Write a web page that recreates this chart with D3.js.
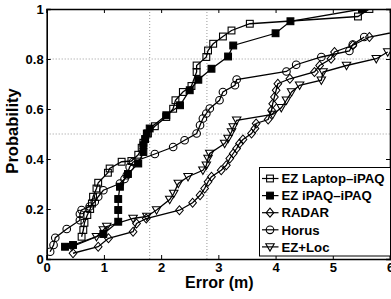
<!DOCTYPE html>
<html><head><meta charset="utf-8">
<script src="https://cdn.jsdelivr.net/npm/d3@7"></script>
<style>
body{margin:0;background:#fff;}
svg{display:block;font-family:"Liberation Sans",Arial,sans-serif;font-weight:bold;}
</style></head>
<body>
<svg id="chart" width="391" height="299"></svg>
<script>
// ---- data ----
const xTicks = [0,1,2,3,4,5,6];
const yTicks = [0,0.2,0.4,0.6,0.8,1];
const yTickLabels = ["0","0.2","0.4","0.6","0.8","1"];
const gridX = [1.8, 2.8];
const gridY = [0.5, 0.8];
const seriesNames = ["EZ Laptop–iPAQ","EZ iPAQ–iPAQ","RADAR","Horus","EZ+Loc"];
const seriesMarkers = ["square","filledSquare","diamond","circle","triangleDown"];

const laptopX = [0.61,0.64,0.66,0.71,0.76,0.79,0.81,0.87,0.90,1.07,1.10,1.31,1.48,1.60,1.66,1.69,1.77,1.89,2.09,2.21,2.25,2.38,2.53,2.62,2.62,2.79,2.82,2.91,3.08,3.23,3.55,5.44,5.64];
const laptopY = [0.089,0.116,0.145,0.176,0.200,0.222,0.249,0.282,0.305,0.345,0.362,0.389,0.392,0.417,0.445,0.465,0.502,0.531,0.568,0.601,0.635,0.668,0.692,0.748,0.774,0.808,0.834,0.861,0.890,0.914,0.941,0.970,1.0];

const ipaqX = [0.32,0.46,0.99,1.25,1.25,1.25,1.28,1.42,1.60,1.69,1.69,1.72,1.75,1.80,2.09,2.33,2.50,2.65,2.88,3.17,3.26,4.00,4.26,5.51];
const ipaqY = [0.049,0.056,0.100,0.149,0.196,0.240,0.289,0.340,0.382,0.428,0.455,0.480,0.502,0.522,0.575,0.615,0.675,0.717,0.761,0.810,0.854,0.903,0.951,1.0];

const radarX = [0.46,0.90,1.08,1.51,1.57,1.74,2.32,2.55,2.68,2.76,2.82,2.88,3.05,3.14,3.20,3.26,3.32,3.37,3.43,3.58,3.64,3.66,3.87,3.93,3.95,3.98,4.01,4.04,4.25,4.68,4.77,4.97,5.03,5.35,5.64,6.25];
const radarY = [0.023,0.049,0.083,0.109,0.142,0.162,0.195,0.225,0.255,0.282,0.309,0.329,0.355,0.375,0.402,0.422,0.442,0.462,0.478,0.502,0.522,0.542,0.558,0.595,0.621,0.648,0.675,0.701,0.721,0.748,0.774,0.801,0.828,0.855,0.888,0.915];

const horusX = [0.06,0.12,0.15,0.35,0.58,0.58,0.61,0.75,0.84,0.90,0.99,1.28,1.36,1.40,1.45,1.51,1.89,2.21,2.41,2.62,2.68,2.73,2.79,2.85,3.02,3.08,3.29,3.32,4.19,4.36,4.80,5.29,5.35,5.55];
const horusY = [0.029,0.056,0.085,0.120,0.155,0.180,0.196,0.210,0.229,0.249,0.275,0.302,0.320,0.335,0.368,0.388,0.420,0.448,0.475,0.502,0.535,0.562,0.582,0.602,0.635,0.668,0.695,0.718,0.750,0.777,0.808,0.832,0.858,0.888];

const ezlocX = [0.44,0.87,0.99,1.05,1.51,1.75,1.92,2.15,2.22,2.30,2.47,2.73,2.79,2.82,2.85,3.11,3.17,3.23,3.26,3.32,3.95,4.10,4.19,4.28,4.42,4.80,4.83,5.24,5.76,5.96];
const ezlocY = [0.049,0.089,0.116,0.130,0.162,0.170,0.196,0.238,0.262,0.302,0.329,0.355,0.375,0.402,0.422,0.462,0.482,0.508,0.528,0.555,0.578,0.605,0.635,0.668,0.695,0.715,0.748,0.774,0.801,0.828];

const seriesX = [laptopX, ipaqX, radarX, horusX, ezlocX];
const seriesY = [laptopY, ipaqY, radarY, horusY, ezlocY];

// ---- layout ----
const W = 391, H = 299;
const m = {left:46.7, right:1, top:9, bottom:40};
const svg = d3.select("#chart");
const x = d3.scaleLinear().domain([0,6]).range([m.left, W - m.right]);
const y = d3.scaleLinear().domain([0,1]).range([H - m.bottom, m.top]);

svg.append("defs").append("clipPath").attr("id","clip")
  .append("rect").attr("x", m.left).attr("y", m.top)
  .attr("width", W - m.right - m.left).attr("height", H - m.bottom - m.top);

// grid
svg.append("g").selectAll("line").data(gridX).join("line")
  .attr("x1", d => x(d)).attr("x2", d => x(d))
  .attr("y1", y(0)).attr("y2", y(1))
  .attr("stroke", "#999").attr("stroke-width", 1).attr("stroke-dasharray", "1,2");
svg.append("g").selectAll("line").data(gridY).join("line")
  .attr("y1", d => y(d)).attr("y2", d => y(d))
  .attr("x1", x(0)).attr("x2", x(6))
  .attr("stroke", "#999").attr("stroke-width", 1).attr("stroke-dasharray", "1,2");

// axes
const fs = 13;
const gx = svg.append("g").attr("transform", `translate(0,${y(0)})`)
  .call(d3.axisBottom(x).tickValues(xTicks).tickFormat(d3.format("d")).tickSize(-4).tickPadding(4));
const gxt = svg.append("g").attr("transform", `translate(0,${y(1)})`)
  .call(d3.axisTop(x).tickValues(xTicks).tickFormat("").tickSize(-4));
const gy = svg.append("g").attr("transform", `translate(${x(0)},0)`)
  .call(d3.axisLeft(y).tickValues(yTicks).tickFormat((d,i) => yTickLabels[i]).tickSize(-4).tickPadding(3));
const gyr = svg.append("g").attr("transform", `translate(${x(6)},0)`)
  .call(d3.axisRight(y).tickValues(yTicks).tickFormat("").tickSize(-4));
[gx,gxt,gy,gyr].forEach(g => {
  g.select(".domain").attr("stroke","#000").attr("stroke-width",1.6);
  g.selectAll(".tick line").attr("stroke","#000").attr("stroke-width",1);
  g.selectAll("text").attr("fill","#000").attr("font-size", fs)
    .attr("font-family","Liberation Sans, Arial, sans-serif").attr("font-weight","bold");
});

// axis titles
svg.append("text").attr("x", (x(0)+x(6))/2 + 1).attr("y", 288)
  .attr("text-anchor","middle").attr("font-size",16).text("Error (m)");
svg.append("text").attr("transform", `translate(18,${(y(0)+y(1))/2 - 3}) rotate(-90)`)
  .attr("text-anchor","middle").attr("font-size",16.5).text("Probability");

// marker drawing
function drawMarker(g, type, cx, cy) {
  if (type === "square" || type === "filledSquare") {
    g.append("rect").attr("x", cx-3.4).attr("y", cy-3.4).attr("width",6.8).attr("height",6.8)
      .attr("fill", type === "filledSquare" ? "#000" : "none").attr("stroke","#000").attr("stroke-width",1.1);
  } else if (type === "circle") {
    g.append("circle").attr("cx",cx).attr("cy",cy).attr("r",3.8)
      .attr("fill","none").attr("stroke","#000").attr("stroke-width",1.1);
  } else if (type === "diamond") {
    g.append("path").attr("d", `M${cx},${cy-4.5}L${cx+3.8},${cy}L${cx},${cy+4.5}L${cx-3.8},${cy}Z`)
      .attr("fill","none").attr("stroke","#000").attr("stroke-width",1.1);
  } else if (type === "triangleDown") {
    g.append("path").attr("d", `M${cx-4.2},${cy-3.2}L${cx+4.2},${cy-3.2}L${cx},${cy+4.2}Z`)
      .attr("fill","none").attr("stroke","#000").attr("stroke-width",1.1);
  }
}

// series
const line = d3.line().x(d => x(d[0])).y(d => y(d[1]));
const plot = svg.append("g").attr("clip-path","url(#clip)");
seriesX.forEach((xs, si) => {
  const pts = xs.map((v,i) => [v, seriesY[si][i]]);
  plot.append("path").datum(pts).attr("d", line)
    .attr("fill","none").attr("stroke","#000").attr("stroke-width",1.3);
  const mg = plot.append("g");
  pts.forEach(p => drawMarker(mg, seriesMarkers[si], x(p[0]), y(p[1])));
});

// legend
const lg = svg.append("g");
const lx = 259.5, ly = 167.5, lw = 131, lh = 88.5;
lg.append("rect").attr("x",lx).attr("y",ly).attr("width",lw).attr("height",lh)
  .attr("fill","#fff").attr("stroke","#000").attr("stroke-width",1);
seriesNames.forEach((name,i) => {
  const cy = 178.5 + i*17.1;
  lg.append("line").attr("x1",262).attr("x2",278.5).attr("y1",cy).attr("y2",cy)
    .attr("stroke","#000").attr("stroke-width",1.2);
  drawMarker(lg, seriesMarkers[i], 270, cy);
  lg.append("text").attr("x",281.5).attr("y",cy+4.7).attr("font-size",13.2).text(name);
});
</script>
</body></html>
